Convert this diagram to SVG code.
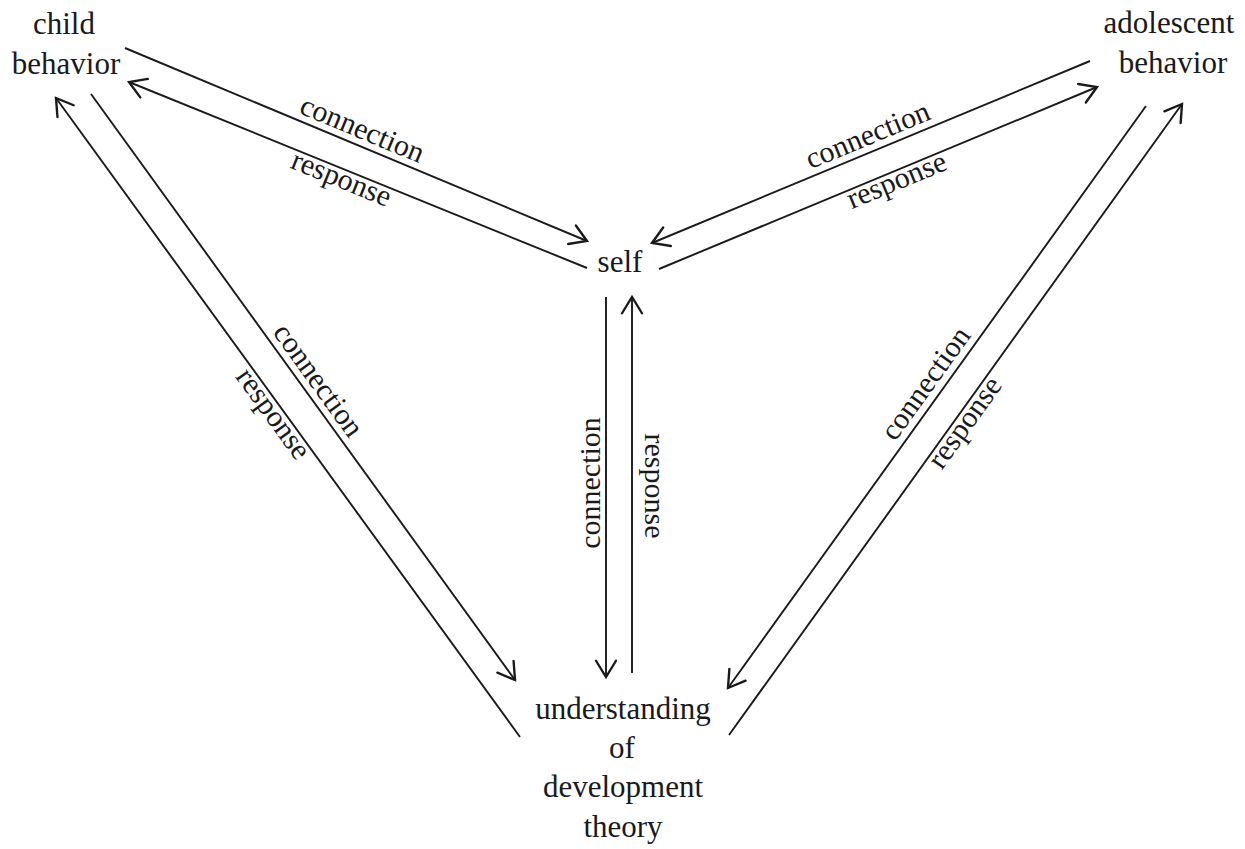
<svg xmlns="http://www.w3.org/2000/svg" width="1245" height="849" viewBox="0 0 1245 849">
  <defs>
    <style>
      .node { font-family: "Liberation Serif", "Times New Roman", serif; font-size: 31px; fill: #1a1a1a; text-anchor: middle; }
      .lbl { font-family: "Liberation Serif", "Times New Roman", serif; font-size: 30px; fill: #1a1a1a; text-anchor: middle; }
      .edge { stroke: #1a1a1a; stroke-width: 1.9; fill: none; marker-end: url(#arrow); }
    </style>
    <marker id="arrow" markerUnits="userSpaceOnUse" markerWidth="30" markerHeight="30" viewBox="-16 -12 20 24" refX="0" refY="0" orient="auto">
      <path d="M-13,-8 L0,0 L-13,8" fill="none" stroke="#1a1a1a" stroke-width="1.9" stroke-linecap="round" stroke-linejoin="miter"/>
    </marker>
  </defs>
  <rect width="1245" height="849" fill="#ffffff"/>

  <g id="connectors">
    <line class="edge" x1="125" y1="48" x2="587" y2="241"/>
    <line class="edge" x1="587" y1="268" x2="129" y2="82"/>
    <line class="edge" x1="1090" y1="61" x2="652" y2="243"/>
    <line class="edge" x1="659" y1="269" x2="1097" y2="87"/>
    <line class="edge" x1="91" y1="94" x2="515" y2="680"/>
    <line class="edge" x1="520" y1="737" x2="56" y2="98"/>
    <line class="edge" x1="606" y1="297" x2="606" y2="677"/>
    <line class="edge" x1="632" y1="673" x2="632" y2="297"/>
    <line class="edge" x1="1146" y1="106" x2="728" y2="688"/>
    <line class="edge" x1="729" y1="735" x2="1182" y2="104"/>

    <text class="lbl" transform="translate(356,144.5) rotate(22.67)" y="-7">connection</text>
    <text class="lbl" transform="translate(345,169.7) rotate(22.1)" y="19">response</text>
    <text class="lbl" transform="translate(874,150.5) rotate(-22.56)" y="-7">connection</text>
    <text class="lbl" transform="translate(893,171.5) rotate(-22.56)" y="19">response</text>
    <text class="lbl" transform="translate(305,390) rotate(54.11)" y="-7">connection</text>
    <text class="lbl" transform="translate(281,408) rotate(54.02)" y="19">response</text>
    <text class="lbl" transform="translate(606,483) rotate(-90)" y="-6">connection</text>
    <text class="lbl" transform="translate(632,486) rotate(90)" y="-13">response</text>
    <text class="lbl" transform="translate(939,393) rotate(-54.31)" y="-7">connection</text>
    <text class="lbl" transform="translate(957,417) rotate(-54.32)" y="19">response</text>
  </g>

  <g id="child-behavior">
    <text class="node" x="64" y="34">child</text>
    <text class="node" x="66" y="74">behavior</text>
  </g>
  <g id="adolescent-behavior">
    <text class="node" x="1169" y="33">adolescent</text>
    <text class="node" x="1173" y="73">behavior</text>
  </g>
  <g id="self">
    <text class="node" x="620" y="272">self</text>
  </g>
  <g id="understanding">
    <text class="node" x="623" y="719">understanding</text>
    <text class="node" x="622" y="758">of</text>
    <text class="node" x="623" y="797">development</text>
    <text class="node" x="623" y="837">theory</text>
  </g>
</svg>
